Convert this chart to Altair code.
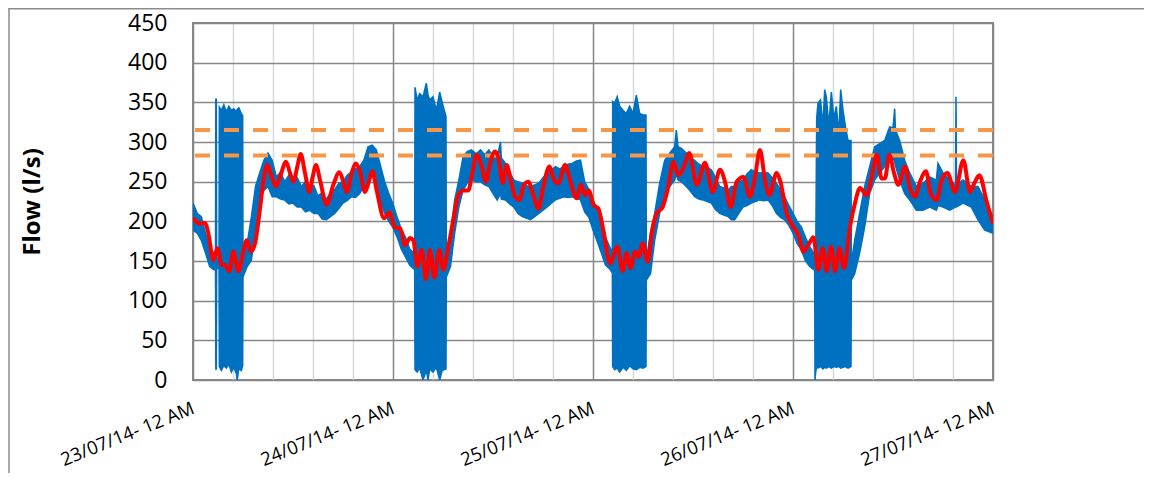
import json
import altair as alt
import pandas as pd

# ---------------- data ----------------
tick_labels = ["23/07/14- 12 AM", "24/07/14- 12 AM", "25/07/14- 12 AM",
               "26/07/14- 12 AM", "27/07/14- 12 AM"]
grid_hours = [0, 4.8, 9.6, 14.4, 19.2, 24, 28.8, 33.6, 38.4, 43.2, 48,
              52.8, 57.6, 62.4, 67.2, 72, 76.8, 81.6, 86.4, 91.2, 96]
flow_ticks = [0, 50, 100, 150, 200, 250, 300, 350, 400, 450]
threshold_flow = [315, 283]

# measured flow (blue): hours since 23/07 00:00, lower / upper edge of the noisy trace
blue_hours = [
    0, 0.5, 1, 1.5, 2, 2.5, 2.70, 2.74, 2.80, 2.84, 3.0, 3.12, 3.16, 3.4, 3.7, 4.0, 4.3, 4.6, 4.9,
    5.2, 5.3, 5.5, 5.8, 5.96, 6.0, 6.5, 7.0, 7.5, 8, 8.5, 9, 9.5, 10, 10.5, 11, 11.5, 12, 12.5,
    13, 13.5, 14, 14.5, 15, 15.5, 16, 16.5, 17, 17.5, 18, 18.5, 19, 19.5, 20, 20.5, 21, 21.5,
    22, 22.5, 23, 23.5,
    24, 24.5, 25, 25.5, 26, 26.5, 26.6, 26.64, 26.9, 27.2, 27.6, 28.0, 28.2, 28.4, 28.8, 29.2,
    29.6, 29.9, 30.36, 30.4, 30.9, 31.4, 31.9, 32.4, 32.9, 33.4, 34, 34.5, 35, 35.5, 36, 36.5,
    36.9, 37.0, 37.5, 38, 38.5, 39, 39.5, 40, 40.5, 41, 41.5, 42, 42.5, 43, 43.5, 44, 44.5, 45,
    45.5, 46, 46.5, 47, 47.5,
    48, 48.5, 49, 49.5, 50, 50.32, 50.36, 50.6, 50.9, 51.2, 51.6, 52.0, 52.4, 52.8, 53.2, 53.6,
    54.0, 54.36, 54.4, 54.9, 55.4, 56, 56.6, 57.2, 57.8, 58.0, 58.2, 58.6, 59.2, 59.7, 60.2,
    60.7, 61.2, 61.7, 62.2, 62.7, 63.2, 63.7, 64.2, 64.6, 65, 65.5, 66, 66.5, 67, 67.5, 68,
    68.5, 69, 69.5, 70, 70.5, 71, 71.5,
    72, 72.5, 73, 73.5, 74, 74.5, 74.6, 74.64, 74.72, 74.84, 75.0, 75.3, 75.6, 75.8, 76.0,
    76.3, 76.6, 76.9, 77.2, 77.5, 77.72, 78.0, 78.3, 78.6, 78.96, 79.0, 79.4, 80, 80.6, 81.2,
    81.8, 82.4, 83, 83.6, 84.0, 84.2, 84.3, 84.8, 85.4, 86, 86.8, 87.6, 88.4, 89.2, 89.4, 90,
    90.8, 91.5, 91.56, 91.62, 92.4, 93.4, 94.2, 95, 96,
]
blue_low = [
    189, 185, 176, 160, 143, 139, 140, 14, 14, 140, 141, 140, 17, 12, 18, 15, 20, 10, 16,
    8, 0, 14, 12, 18, 130, 143, 151, 185, 227, 239, 244, 231, 231, 228, 227, 222, 223, 218,
    218, 212, 214, 210, 210, 203, 202, 206, 210, 216, 223, 226, 231, 230, 235, 244, 244, 261,
    244, 225, 210, 200,
    192, 180, 165, 155, 145, 140, 140, 13, 10, 15, 0, 12, 0, 14, 10, 16,
    0, 12, 14, 130, 143, 185, 218, 239, 248, 252, 250, 250, 246, 244, 235, 227,
    235, 228, 227, 222, 218, 210, 206, 204, 202, 206, 210, 214, 218, 223, 227, 229, 231, 230,
    231, 229, 227, 212, 205,
    189, 175, 160, 145, 140, 135, 17, 13, 15, 10, 16, 12, 18, 14, 13, 16,
    15, 17, 126, 134, 176, 210, 235, 244, 252, 260, 252, 250, 244, 238, 231,
    228, 227, 225, 223, 215, 210, 208, 206, 202, 202, 210, 218, 220, 223, 225, 227,
    226, 227, 220, 210, 205, 202, 195,
    185, 172, 164, 150, 143, 139, 140, 0, 10, 17, 15, 17, 14, 16, 15,
    17, 15, 17, 16, 17, 15, 16, 17, 15, 17, 126, 134, 160, 193, 235,
    252, 261, 269, 286, 280, 275, 270, 252, 235, 227, 214, 214, 218, 214, 220, 218,
    214, 218, 218, 218, 223, 218, 202, 189, 185,
]
blue_high = [
    223, 210, 206, 185, 168, 160, 158, 354, 354, 155, 153, 152, 344, 340, 347, 338, 345, 340, 342,
    338, 341, 343, 336, 333, 155, 172, 205, 244, 261, 277, 286, 277, 256, 262, 250, 258, 248, 255,
    244, 250, 240, 245, 232, 236, 228, 236, 240, 248, 250, 258, 262, 266, 269, 277, 294, 296,
    290, 270, 250, 235,
    222, 205, 190, 180, 165, 160, 158, 369, 353, 361, 357, 374, 360, 353, 357, 340,
    363, 350, 332, 147, 185, 227, 252, 281, 288, 290, 285, 290, 284, 290, 282, 281,
    300, 280, 273, 262, 252, 250, 248, 245, 244, 246, 248, 255, 261, 265, 269, 266, 269, 272,
    273, 276, 277, 250, 240,
    227, 215, 206, 180, 168, 160, 351, 349, 357, 345, 340, 336, 345, 336, 359, 336,
    334, 334, 151, 185, 210, 248, 277, 286, 294, 315, 294, 292, 286, 280, 277,
    272, 269, 268, 265, 255, 244, 242, 239, 244, 244, 250, 252, 260, 265, 262, 261,
    262, 261, 255, 248, 240, 231, 220,
    210, 200, 193, 180, 168, 160, 158, 160, 150, 330, 349, 353, 320, 366, 357,
    320, 363, 330, 345, 310, 366, 340, 319, 302, 302, 147, 176, 210, 244, 269,
    294, 298, 302, 319, 318, 342, 315, 302, 277, 261, 244, 248, 256, 252, 273, 261,
    252, 245, 357, 245, 252, 244, 244, 227, 206,
]

# modelled flow (red)
red_hours = [
    0, 0.84, 1.44, 1.84, 2.44, 2.92, 3.44, 3.84, 4.36, 4.84, 5.44, 6.04, 6.44, 6.96, 7.44, 8.04,
    8.52, 8.92, 9.44, 9.96, 10.44, 11.16, 11.64, 12.04, 12.52, 12.92, 13.44, 13.96, 14.36,
    14.76, 15.24, 16.04, 16.84, 17.56, 18.04, 18.44, 19.04, 19.52, 20.04, 20.64, 21.04, 21.52,
    22.04, 22.92, 23.56, 24.24, 24.88, 25.44, 26.04, 26.44, 26.92, 27.44, 27.96, 28.44, 28.96,
    29.56, 30.04, 30.64, 31.24, 31.84, 32.44, 33.04, 33.44, 34.04, 34.64, 35.16, 35.64, 36.24,
    36.64, 37.16, 37.64, 38.12, 38.64, 39.16, 39.72, 40.24, 40.84, 41.44, 42.04, 42.76, 43.32,
    43.84, 44.64, 45.24, 46.04, 46.56, 47.04, 47.5, 48.04, 48.64, 49.24, 50.04, 50.92, 51.56,
    52.04, 52.52, 53.04, 53.48, 53.96, 54.56, 55.04, 55.64, 56.36, 57.04, 57.64, 58.24, 58.92,
    59.56, 60.44, 61.44, 62.36, 63.24, 63.84, 64.52, 65.24, 66.04, 66.84, 67.44, 68.04, 68.64,
    69.16, 70.04, 70.44, 71.24, 72.04, 72.64, 73.24, 73.84, 74.44, 75.04, 75.56, 76.04, 76.56,
    77.04, 77.56, 78.12, 78.84, 79.44, 80.04, 80.84, 81.44, 82.04, 82.64, 83.04, 83.56, 84.12,
    84.64, 85.44, 86.04, 86.64, 87.24, 87.96, 88.52, 89.24, 89.84, 90.52, 91.44, 92.44, 93.24,
    93.76, 94.36, 95.24, 96,
]
red_flow = [
    204, 197, 198, 185, 151, 166, 145, 145, 137, 162, 137, 162, 176, 162, 172, 216,
    256, 271, 256, 244, 256, 275, 261, 250, 269, 285, 261, 237, 256,
    271, 252, 221, 246, 262, 250, 237, 261, 273, 263, 237, 248, 263,
    239, 204, 211, 192, 191, 170, 179, 176, 143, 164, 127, 164, 129,
    164, 139, 168, 202, 233, 239, 239, 256, 284, 269, 250, 273, 288,
    281, 248, 271, 252, 231, 227, 246, 250, 233, 216, 244, 269, 252,
    248, 271, 252, 229, 246, 233, 239, 221, 216, 189, 147, 168, 137,
    160, 141, 162, 155, 172, 149, 185, 210, 218, 244, 275, 258, 269,
    286, 246, 274, 237, 265, 250, 218, 250, 256, 231, 256, 290, 252,
    233, 261, 252, 210, 193, 183, 162, 170, 180, 139, 166, 137, 168,
    137, 166, 141, 193, 223, 242, 233, 256, 284, 254, 254, 284, 261,
    246, 269, 242, 231, 250, 263, 235, 227, 252, 261, 237, 277, 237,
    248, 258, 225, 197,
]

blue_df = pd.DataFrame({"h": blue_hours, "lo": blue_low, "hi": blue_high})
red_df = pd.DataFrame({"h": red_hours, "v": red_flow})
thr_df = pd.DataFrame({"v": threshold_flow})

# ---------------- chart ----------------
FONT = "Open Sans"
MAJOR = "#878787"
MINOR = "#d9d9d9"

x_scale = alt.Scale(domain=[0, 96], nice=False, zero=False)
y_scale = alt.Scale(domain=[0, 450], nice=False)

label_expr = ("datum.value % 24 == 0 ? " + json.dumps(tick_labels) +
              "[round(datum.value / 24)] : ''")

x_axis = alt.Axis(
    values=grid_hours, tickCount=100, labelExpr=label_expr, title=None,
    grid=True,
    gridColor={"condition": {"test": "datum.value % 24 == 0", "value": MAJOR}, "value": MINOR},
    gridWidth=1.5,
    domain=False, ticks=False, tickSize=0,
    labelAngle=338, labelAlign="right", labelBaseline="middle",
    labelPadding=27, labelFont=FONT, labelFontSize=18.5, labelColor="#000000",
    labelOverlap=False, labelBound=False, labelFlush=False,
)
y_axis = alt.Axis(
    values=flow_ticks, tickCount=100, title="Flow (l/s)", grid=True, gridColor=MAJOR,
    gridWidth=1.5, domain=False, ticks=False, tickSize=0, labelOverlap=False,
    labelFont=FONT, labelFontSize=23, labelColor="#000000", labelPadding=26,
    titleFont=FONT, titleFontSize=24, titleFontWeight="bold", titleColor="#000000",
    titleAngle=270, titleX=-161, titleY=178.5, titleAlign="center", titleBaseline="middle",
)

blue = alt.Chart(blue_df).mark_area(
    color="#0070C0", stroke="#0070C0", strokeWidth=1.5, opacity=1, clip=True
).encode(
    x=alt.X("h:Q", scale=x_scale, axis=x_axis),
    y=alt.Y("hi:Q", scale=y_scale, axis=y_axis),
    y2="lo:Q",
)

orange = alt.Chart(thr_df).mark_rule(
    color="#F79646", strokeWidth=4, strokeDash=[15, 14]
).encode(y=alt.Y("v:Q", scale=y_scale, axis=y_axis))

red = alt.Chart(red_df).mark_line(
    color="#FF0000", strokeWidth=4, interpolate="monotone", clip=True
).encode(x=alt.X("h:Q", scale=x_scale, axis=x_axis),
         y=alt.Y("v:Q", scale=y_scale, axis=y_axis))

frame_left = alt.Chart(alt.Data(values=[{}])).mark_rule(
    color="#8c8c8c", strokeWidth=1.5
).encode(x=alt.value(-184), y=alt.value(-15), y2=alt.value(450))
frame_top = alt.Chart(alt.Data(values=[{}])).mark_rule(
    color="#8c8c8c", strokeWidth=1.5
).encode(x=alt.value(-185), x2=alt.value(951), y=alt.value(-14.2))

chart = alt.layer(blue, orange, red, frame_left, frame_top).properties(
    width=800, height=357,
    autosize=alt.AutoSizeParams(type="none"),
    padding={"left": 185, "top": 15, "right": 151, "bottom": 93},
).configure(
    font=FONT, background="white"
).configure_view(
    stroke=MAJOR, strokeWidth=2
)

chart.save("out.html", embed_options={"renderer": "svg", "actions": False})
